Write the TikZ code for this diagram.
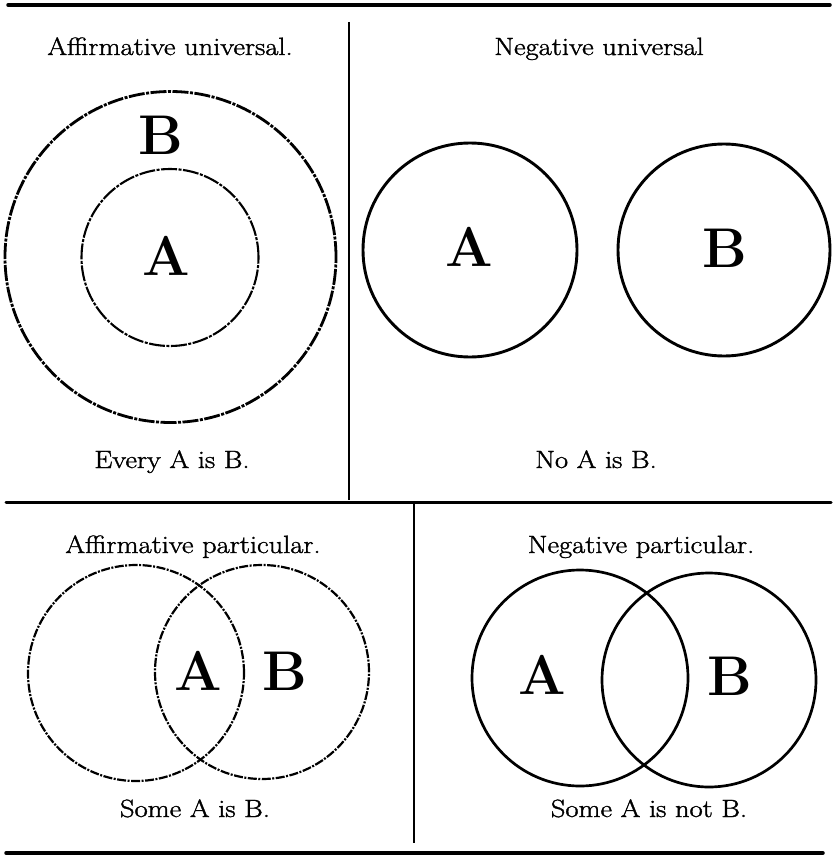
\documentclass[tikz,border=0pt]{standalone}
\usepackage{fontspec}
\newfontfamily\capfont{Latin Modern Roman}[FakeBold=1.3]
\begin{document}
\begin{tikzpicture}[x=1pt,y=-1pt,
  rule/.style={line width=3.5pt,line cap=round},
  divider/.style={line width=1.8pt},
  ring/.style={circle,draw,line width=2.9pt,inner sep=0pt},
  dashring/.style={circle,draw,line width=2.2pt,inner sep=0pt,dash pattern={on 9pt off 1.5pt on 2pt off 1.5pt}},
  longdashring/.style={dashring,dash pattern={on 16pt off 1.5pt on 3pt off 1.5pt}},
  caption/.style={anchor=base,inner sep=0pt,font=\capfont\fontsize{25}{28}\selectfont},
  letter/.style={inner sep=0pt,font=\fontsize{56}{56}\selectfont\bfseries}]
\useasboundingbox (0,0) rectangle (833,856);
\newcommand{\wide}[1]{\scalebox{1.14}[1]{#1}}
% rules
\coordinate (t1) at (8,5);   \coordinate (t2) at (830,5);
\coordinate (m1) at (6,502); \coordinate (m2) at (831,502);
\coordinate (b1) at (6,853); \coordinate (b2) at (823,853);
\coordinate (v1) at (349,22);  \coordinate (v2) at (349,500);
\coordinate (w1) at (414,504); \coordinate (w2) at (414,843);
\draw[rule] (t1) -- (t2);
\draw[rule,line width=3pt] (m1) -- (m2);
\draw[rule] (b1) -- (b2);
\draw[divider] (v1) -- (v2);
\draw[divider] (w1) -- (w2);
% captions
\node[caption] (c1) at (170,55) {\wide{Affirmative universal.}};
\node[caption] (c2) at (599,55) {\wide{Negative universal}};
\node[caption] (c3) at (172,468) {\wide{Every A is B.}};
\node[caption] (c4) at (596,468) {\wide{No A is B.}};
\node[caption] (c5) at (193,553) {\wide{Affirmative particular.}};
\node[caption] (c6) at (641,553) {\wide{Negative particular.}};
\node[caption] (c7) at (195,817) {\wide{Some A is B.}};
\node[caption] (c8) at (649,817) {\wide{Some A is not B.}};
% affirmative universal
\node[longdashring,minimum size=331pt,line width=2.8pt] (ubo) at (170.5,257) {};
\node[longdashring,minimum size=177pt,line width=2.1pt] (uai) at (170,257.5) {};
\node[letter] (lb1) at (161,135) {B};
\node[letter] (la1) at (166,256) {A};
% negative universal
\node[ring,minimum size=214pt] (na) at (470,250) {};
\node[ring,minimum size=212pt] (nb) at (724,250) {};
\node[letter] (la2) at (469,247) {A};
\node[letter] (lb2) at (725,248) {B};
% affirmative particular
\node[dashring,minimum size=216pt] (pa) at (136,673) {};
\node[dashring,minimum size=214pt] (pb) at (262,672) {};
\node[letter] (la3) at (198,671) {A};
\node[letter] (lb3) at (285,671) {B};
% negative particular
\node[ring,minimum size=216pt,line width=2.7pt] (qa) at (580,678) {};
\node[ring,minimum size=214pt,line width=2.7pt] (qb) at (709,680) {};
\node[letter] (la4) at (542,675) {A};
\node[letter] (lb4) at (730,676) {B};
\end{tikzpicture}
\end{document}
